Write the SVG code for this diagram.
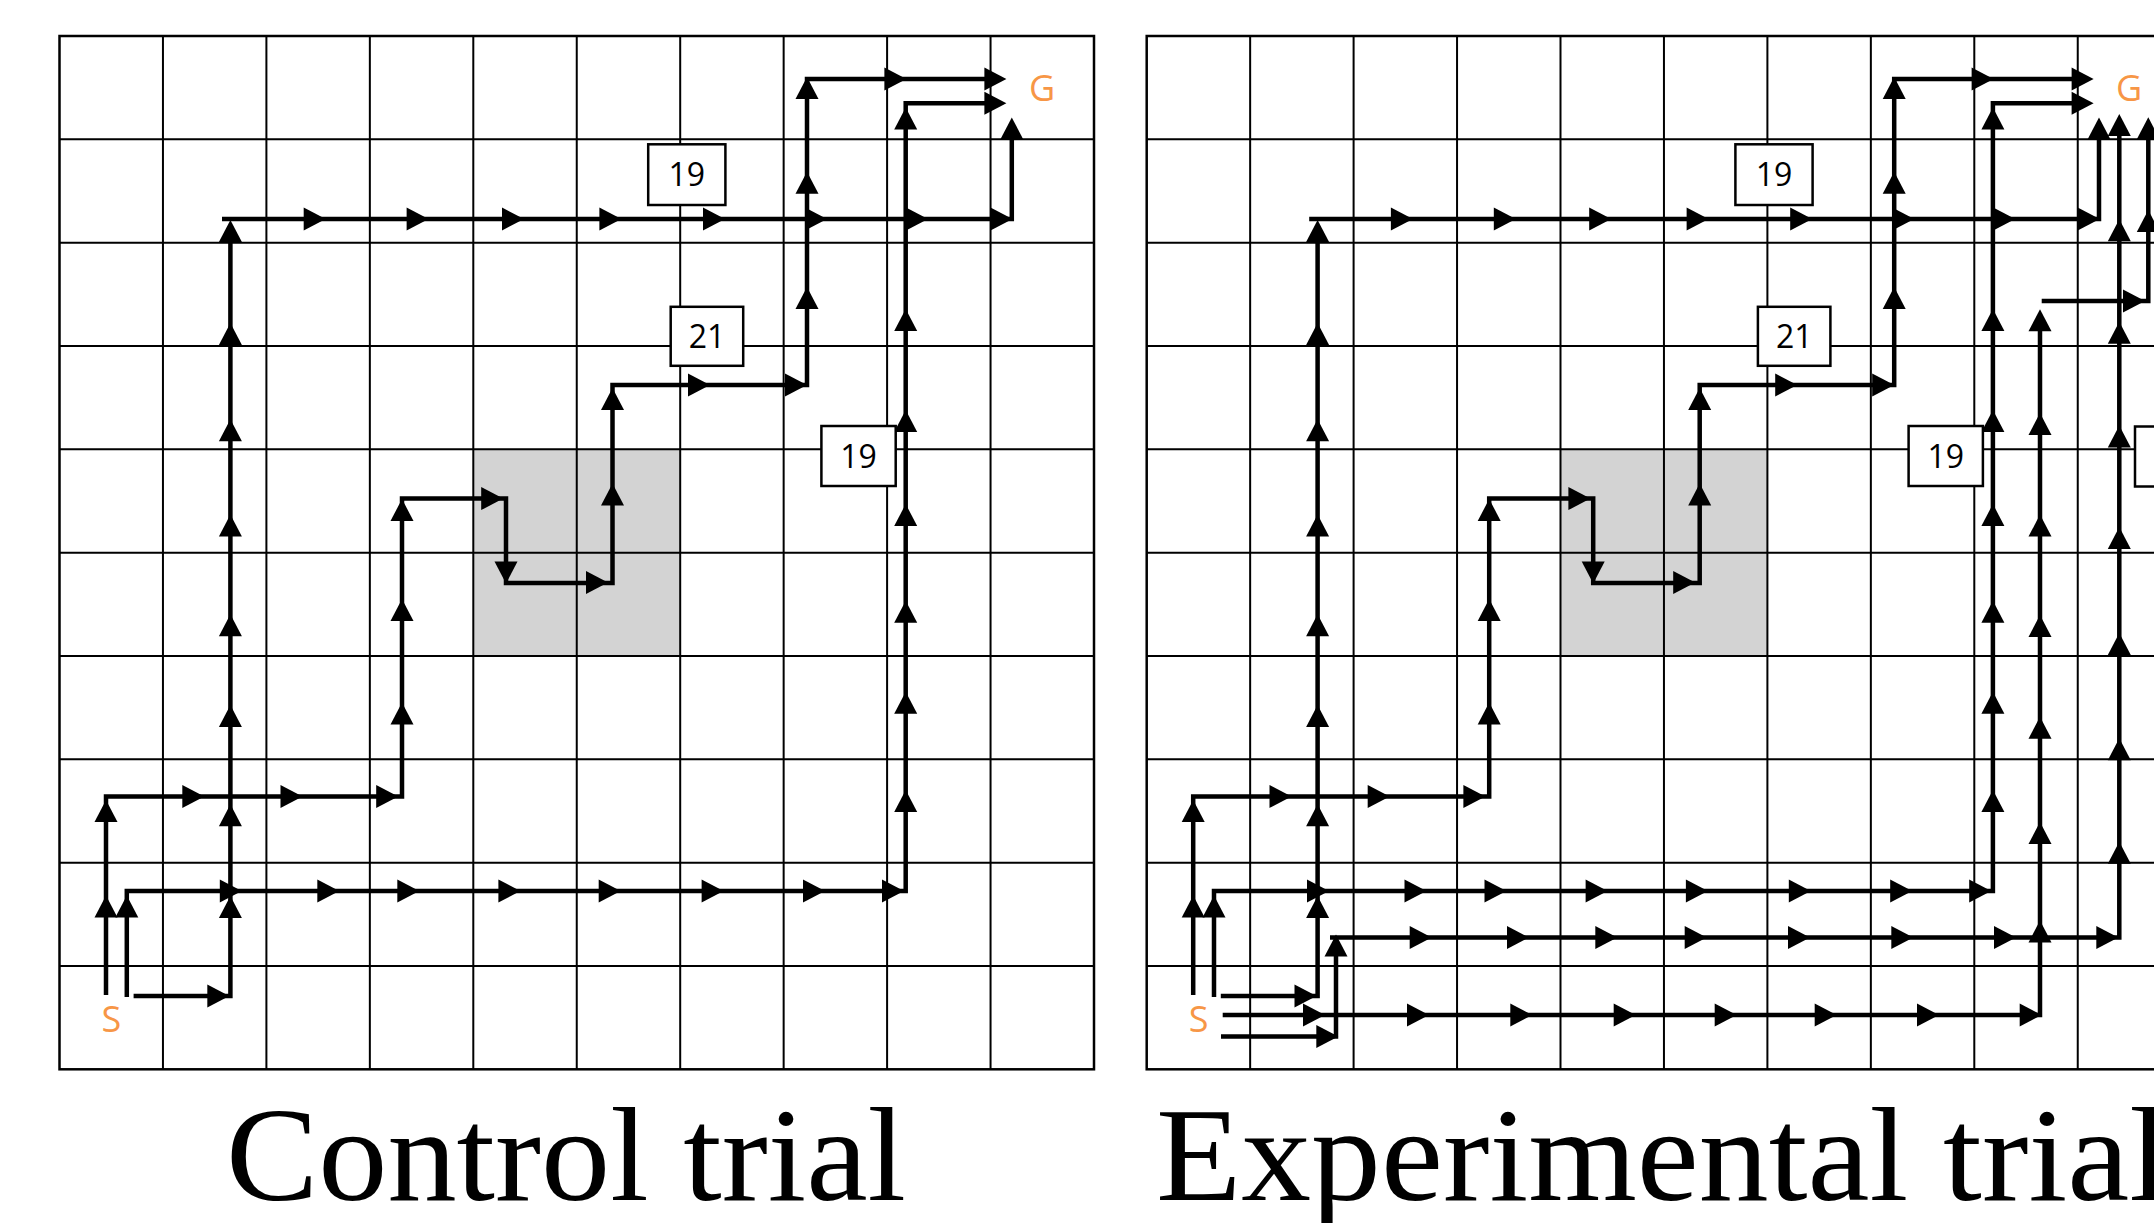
<svg xmlns="http://www.w3.org/2000/svg" width="2154" height="1223" viewBox="0 0 2154 1223">
<style>
.bg{fill:#fff}
.grid{stroke:#000;stroke-width:2;fill:none}
.border{stroke:#000;stroke-width:2.5;fill:none}
.gray{fill:#d3d3d3}
.p{stroke:#000;stroke-width:4.5;fill:none;stroke-linejoin:miter;stroke-linecap:butt}
.box rect{fill:#fff;stroke:#000;stroke-width:2.5}
.box text{font-family:"Open Sans","Liberation Sans",sans-serif;font-size:32px;text-anchor:middle;fill:#000}
.lbl{font-family:"Open Sans","Liberation Sans",sans-serif;font-size:36px;text-anchor:middle;fill:#F79646}
.title{font-family:"Liberation Serif","DejaVu Serif",serif;font-size:134px;fill:#000}
</style>
<defs>
<path id="gridlines" class="grid" d="M162.95 36V1069.3M266.4 36V1069.3M369.85 36V1069.3M473.3 36V1069.3M576.75 36V1069.3M680.2 36V1069.3M783.65 36V1069.3M887.1 36V1069.3M990.55 36V1069.3M59.5 139.33H1094M59.5 242.67H1094M59.5 346H1094M59.5 449.33H1094M59.5 552.67H1094M59.5 656H1094M59.5 759.33H1094M59.5 862.67H1094M59.5 966H1094"/>
<path id="aR" d="M0 0L-22 -11.5L-22 11.5Z"/>
<path id="aU" d="M0 0L-11.5 22L11.5 22Z"/>
<path id="aD" d="M0 0L-11.5 -22L11.5 -22Z"/>
</defs>
<rect class="bg" x="0" y="0" width="2154" height="1223"/>

<!-- Control trial panel -->
<g id="panel-control">
  <rect class="gray" x="473.3" y="449.33" width="206.9" height="206.67"/>
  <use href="#gridlines"/>
  <rect class="border" x="59.5" y="36" width="1034.5" height="1033.3"/>
  <g id="c-connectors">
    <polyline class="p" points="106,995 106,796.4 402,796.4 402,498.6 506,498.6 506,583 612.5,583 612.5,385 807,385 807,79 1000,79"/>
    <polyline class="p" points="126.8,997 126.8,891 905.7,891 905.7,103.2 1000,103.2"/>
    <polyline class="p" points="133.6,996 230.4,996 230.4,225"/>
    <polyline class="p" points="222,219 1011.8,219 1011.8,125"/>
    <g id="c-arrowheads">
      <use href="#aU" x="106" y="895.4"/><use href="#aU" x="106" y="800"/>
      <use href="#aR" x="204.3" y="796.4"/><use href="#aR" x="302.5" y="796.4"/><use href="#aR" x="398.2" y="796.4"/>
      <use href="#aU" x="402" y="702.5"/><use href="#aU" x="402" y="599"/><use href="#aU" x="402" y="499"/>
      <use href="#aR" x="503.2" y="498.6"/><use href="#aD" x="506" y="583.6"/><use href="#aR" x="608" y="582.5"/>
      <use href="#aU" x="612.5" y="483.6"/><use href="#aU" x="612.5" y="387.9"/>
      <use href="#aR" x="710" y="385"/><use href="#aR" x="807" y="385"/>
      <use href="#aU" x="807" y="287"/><use href="#aU" x="807" y="171.8"/><use href="#aU" x="807" y="77"/>
      <use href="#aR" x="906.4" y="79"/><use href="#aR" x="1006.4" y="79"/>
      <use href="#aU" x="126.8" y="895.4"/>
      <use href="#aR" x="241.8" y="891"/><use href="#aR" x="339.3" y="891"/><use href="#aR" x="419.3" y="891"/><use href="#aR" x="520.4" y="891"/><use href="#aR" x="620.7" y="891"/><use href="#aR" x="723.6" y="891"/><use href="#aR" x="825" y="891"/><use href="#aR" x="904" y="891"/>
      <use href="#aU" x="905.7" y="790"/><use href="#aU" x="905.7" y="691.8"/><use href="#aU" x="905.7" y="600.7"/><use href="#aU" x="905.7" y="504"/><use href="#aU" x="905.7" y="410"/><use href="#aU" x="905.7" y="309"/><use href="#aU" x="905.7" y="107.5"/>
      <use href="#aR" x="1006.4" y="103.2"/>
      <use href="#aR" x="229.3" y="996"/>
      <use href="#aU" x="230.4" y="896"/><use href="#aU" x="230.4" y="804.3"/><use href="#aU" x="230.4" y="705"/><use href="#aU" x="230.4" y="614.3"/><use href="#aU" x="230.4" y="514.6"/><use href="#aU" x="230.4" y="419.3"/><use href="#aU" x="230.4" y="322.9"/><use href="#aU" x="230.4" y="220"/>
      <use href="#aR" x="325.7" y="219"/><use href="#aR" x="428.6" y="219"/><use href="#aR" x="524" y="219"/><use href="#aR" x="621.4" y="219"/><use href="#aR" x="725" y="219"/><use href="#aR" x="827" y="219"/><use href="#aR" x="928" y="219"/><use href="#aR" x="1012.5" y="219"/>
      <use href="#aU" x="1011.8" y="117.5"/>
    </g>
  </g>
  <g id="c-box-19a" class="box"><rect x="648.2" y="144.3" width="77.2" height="60.7"/><text x="686.8" y="186">19</text></g>
  <g id="c-box-21" class="box"><rect x="670.7" y="306.8" width="72.5" height="59"/><text x="707" y="347.6">21</text></g>
  <g id="c-box-19b" class="box"><rect x="821.4" y="426" width="74.3" height="60"/><text x="858.6" y="467.6">19</text></g>
  <g id="c-start"><text class="lbl" x="111.4" y="1031.5">S</text></g>
  <g id="c-goal"><text class="lbl" x="1042" y="100.8">G</text></g>
</g>

<!-- Experimental trial panel -->
<g id="panel-experimental" transform="translate(1087.2 0)">
  <rect class="gray" x="473.3" y="449.33" width="206.9" height="206.67"/>
  <use href="#gridlines"/>
  <rect class="border" x="59.5" y="36" width="1034.5" height="1033.3"/>
  <g id="e-connectors">
    <polyline class="p" points="106,995 106,796.4 402,796.4 402,498.6 506,498.6 506,583 612.5,583 612.5,385 807,385 807,79 1000,79"/>
    <polyline class="p" points="126.8,997 126.8,891 905.7,891 905.7,103.2 1000,103.2"/>
    <polyline class="p" points="133.6,996 230.4,996 230.4,225"/>
    <polyline class="p" points="222,219 1011.8,219 1011.8,125"/>
    <polyline class="p" points="135.5,1015 952.8,1015 952.8,315"/>
    <polyline class="p" points="954.5,301 1061.1,301 1061.1,125"/>
    <polyline class="p" points="133.8,1036.4 248.8,1036.4 248.8,940"/>
    <polyline class="p" points="242.8,937.5 1032.1,937.5 1032.1,120"/>
    <g id="e-arrowheads">
      <use href="#aU" x="106" y="895.4"/><use href="#aU" x="106" y="800"/>
      <use href="#aR" x="204.3" y="796.4"/><use href="#aR" x="302.5" y="796.4"/><use href="#aR" x="398.2" y="796.4"/>
      <use href="#aU" x="402" y="702.5"/><use href="#aU" x="402" y="599"/><use href="#aU" x="402" y="499"/>
      <use href="#aR" x="503.2" y="498.6"/><use href="#aD" x="506" y="583.6"/><use href="#aR" x="608" y="582.5"/>
      <use href="#aU" x="612.5" y="483.6"/><use href="#aU" x="612.5" y="387.9"/>
      <use href="#aR" x="710" y="385"/><use href="#aR" x="807" y="385"/>
      <use href="#aU" x="807" y="287"/><use href="#aU" x="807" y="171.8"/><use href="#aU" x="807" y="77"/>
      <use href="#aR" x="906.4" y="79"/><use href="#aR" x="1006.4" y="79"/>
      <use href="#aU" x="126.8" y="895.4"/>
      <use href="#aR" x="241.8" y="891"/><use href="#aR" x="339.3" y="891"/><use href="#aR" x="419.3" y="891"/><use href="#aR" x="520.4" y="891"/><use href="#aR" x="620.7" y="891"/><use href="#aR" x="723.6" y="891"/><use href="#aR" x="825" y="891"/><use href="#aR" x="904" y="891"/>
      <use href="#aU" x="905.7" y="790"/><use href="#aU" x="905.7" y="691.8"/><use href="#aU" x="905.7" y="600.7"/><use href="#aU" x="905.7" y="504"/><use href="#aU" x="905.7" y="410"/><use href="#aU" x="905.7" y="309"/><use href="#aU" x="905.7" y="107.5"/>
      <use href="#aR" x="1006.4" y="103.2"/>
      <use href="#aR" x="229.3" y="996"/>
      <use href="#aU" x="230.4" y="896"/><use href="#aU" x="230.4" y="804.3"/><use href="#aU" x="230.4" y="705"/><use href="#aU" x="230.4" y="614.3"/><use href="#aU" x="230.4" y="514.6"/><use href="#aU" x="230.4" y="419.3"/><use href="#aU" x="230.4" y="322.9"/><use href="#aU" x="230.4" y="220"/>
      <use href="#aR" x="325.7" y="219"/><use href="#aR" x="428.6" y="219"/><use href="#aR" x="524" y="219"/><use href="#aR" x="621.4" y="219"/><use href="#aR" x="725" y="219"/><use href="#aR" x="827" y="219"/><use href="#aR" x="928" y="219"/><use href="#aR" x="1012.5" y="219"/>
      <use href="#aU" x="1011.8" y="117.5"/>
      <use href="#aR" x="237.8" y="1015"/><use href="#aR" x="341.8" y="1015"/><use href="#aR" x="445.1" y="1015"/><use href="#aR" x="548.5" y="1015"/><use href="#aR" x="649.5" y="1015"/><use href="#aR" x="749.5" y="1015"/><use href="#aR" x="851.8" y="1015"/><use href="#aR" x="954.5" y="1015"/>
      <use href="#aU" x="952.8" y="920.4"/><use href="#aU" x="952.8" y="822"/><use href="#aU" x="952.8" y="716.8"/><use href="#aU" x="952.8" y="615"/><use href="#aU" x="952.8" y="514.6"/><use href="#aU" x="952.8" y="412.9"/><use href="#aU" x="952.8" y="309.3"/>
      <use href="#aR" x="1057.8" y="301"/><use href="#aU" x="1061.1" y="210"/><use href="#aU" x="1061.1" y="117.3"/>
      <use href="#aR" x="251.1" y="1036.4"/><use href="#aU" x="248.8" y="934.6"/>
      <use href="#aR" x="344.5" y="937.5"/><use href="#aR" x="441.8" y="937.5"/><use href="#aR" x="530.1" y="937.5"/><use href="#aR" x="619.5" y="937.5"/><use href="#aR" x="722.8" y="937.5"/><use href="#aR" x="826.1" y="937.5"/><use href="#aR" x="928.8" y="937.5"/><use href="#aR" x="1031.1" y="937.5"/>
      <use href="#aU" x="1032.1" y="841.8"/><use href="#aU" x="1032.1" y="738.2"/><use href="#aU" x="1032.1" y="632.9"/><use href="#aU" x="1032.1" y="527"/><use href="#aU" x="1032.1" y="425.4"/><use href="#aU" x="1032.1" y="321.8"/><use href="#aU" x="1032.1" y="219.3"/><use href="#aU" x="1032.1" y="114"/>
    </g>
  </g>
  <g id="e-box-19a" class="box"><rect x="648.2" y="144.3" width="77.2" height="60.7"/><text x="686.8" y="186">19</text></g>
  <g id="e-box-21" class="box"><rect x="670.7" y="306.8" width="72.5" height="59"/><text x="707" y="347.6">21</text></g>
  <g id="e-box-19b" class="box"><rect x="821.4" y="426" width="74.3" height="60"/><text x="858.6" y="467.6">19</text></g>
  <g id="e-box-partial" class="box"><rect x="1047.8" y="426.5" width="75" height="60"/></g>
  <g id="e-start"><text class="lbl" x="111.4" y="1031.5">S</text></g>
  <g id="e-goal"><text class="lbl" x="1042" y="100.8">G</text></g>
</g>

<g id="titles">
  <text class="title" x="226" y="1200" textLength="680" lengthAdjust="spacingAndGlyphs">Control trial</text>
  <text class="title" x="1156" y="1200" textLength="1012" lengthAdjust="spacingAndGlyphs">Experimental trial</text>
</g>
</svg>
